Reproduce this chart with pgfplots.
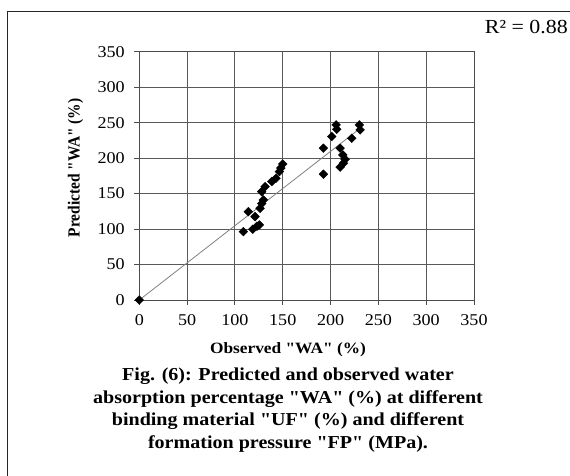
\documentclass[border=0pt]{standalone}
\usepackage{fontspec}
\setmainfont{Liberation Serif}[Ligatures=TeXOff, FakeStretch=1.1]
\newfontfamily\plainfont{Liberation Serif}[Ligatures=TeXOff]
\usepackage{pgfplots}
\pgfplotsset{compat=1.18}
\begin{document}
\begin{tikzpicture}[x=1bp,y=1bp]
\path[use as bounding box] (0,0) rectangle (570,476);
\draw[line width=1bp, black!85] (7,0) -- (7,464) -- (570,464);
\begin{axis}[
  at={(139.3bp,176bp)}, anchor=south west,
  width=334.7bp, height=248.3bp, scale only axis,
  xmin=0, xmax=350, ymin=0, ymax=350,
  xtick={0,50,...,350}, ytick={0,50,...,350},
  grid=major,
  grid style={black!65, line width=0.9bp},
  axis line style={black!70, line width=0.9bp},
  tick style={black!70, line width=0.9bp},
  tick align=outside, major tick length=5bp,
  xtick pos=bottom, ytick pos=left,
  /pgf/number format/assume math mode=true,
  ticklabel style={font=\fontsize{16.5}{19}\selectfont},
  xticklabel style={yshift=-6bp},
  yticklabel style={xshift=-6bp},
  clip=false,
]
\addplot[gray, line width=0.8bp] coordinates {(0,0) (231,242)};
\addplot[only marks, mark=square*, mark size=3.1bp, mark options={rotate=45, fill=black, draw=black}] coordinates {
(0,0)
(108.8,96.3) (118.6,99.7) (123,104) (125.5,105.8) (114,124.5) (121,117.5)
(126.3,129.3) (128,136) (129.7,141) (128,152.7) (131.5,159.8) (138.5,166.9)
(143,171.6) (146.5,181) (148,186) (150,191.8)
(205.8,246.8) (206.5,240.7) (201.2,230.4) (230.1,246.8) (230.9,239.8) (222.2,228)
(192.5,214) (210,214) (212.8,204.5) (215.2,198.4) (213.4,192.8) (210,187.2) (192.5,177.3)
};
\end{axis}
\node[font=\fontsize{20}{22}\selectfont, anchor=east, inner sep=0pt] at (568,449) {R² = 0.88};
\node[rotate=90] at (75.5,308) {\scalebox{1}[1.1]{\plainfont\bfseries\fontsize{15.5}{18}\selectfont Predicted "WA" (\%)}};
\node[font=\bfseries\fontsize{15.8}{18}\selectfont] at (288,126) {Observed "WA" (\%)};
\node[font=\bfseries\fontsize{18.3}{22.7}\selectfont, align=center] at (288,66) {Fig. (6): Predicted and observed water\\absorption percentage "WA" (\%) at different\\binding material "UF" (\%) and different\\formation pressure "FP" (MPa).};
\end{tikzpicture}
\end{document}
